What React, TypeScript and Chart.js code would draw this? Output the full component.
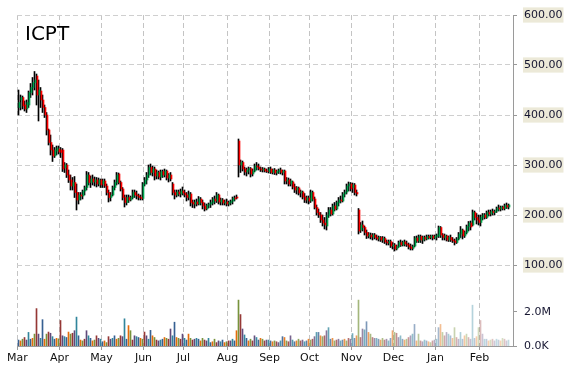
import React, { useEffect, useRef } from "react";
import { Chart, registerables } from "chart.js";

Chart.register(...registerables);

const TITLE = "ICPT";
const months = ["Mar", "Apr", "May", "Jun", "Jul", "Aug", "Sep", "Oct", "Nov", "Dec", "Jan", "Feb"];
const monthStartIdx = [0, 21, 42, 63, 83, 105, 126, 146, 167, 188, 209, 231];
const priceTicks = [100, 200, 300, 400, 500, 600];
const volumeTicks = [0, 2]; // millions

const opens = [
  415, 430, 435, 420, 412, 420, 445, 455, 465, 478, 440, 448, 430, 415, 400, 370, 345, 330, 318, 328, 332,
  330, 330, 295, 300, 280, 270, 258, 265, 245, 230, 240, 238, 248, 255, 280, 265, 272, 266, 270, 262, 270,
  262, 268, 258, 245, 235, 240, 255, 265, 282, 265, 252, 235, 225, 235, 230, 235, 245, 240, 238, 235, 233,
  262, 270, 280, 295, 285, 292, 278, 285, 276, 287, 280, 288, 274, 280, 262, 245, 240, 246, 242, 248,
  244, 240, 236, 242, 225, 222, 226, 222, 232, 225, 218, 212, 220, 222, 225, 232, 228, 240, 226, 230, 224,
  226, 222, 225, 228, 234, 236, 348, 300, 305, 292, 286, 290, 293, 282, 288, 298, 296, 292, 290, 292, 288,
  287, 292, 285, 290, 284, 287, 290, 285, 288, 268, 270, 262, 266, 256, 250, 254, 244, 246, 236, 230, 234,
  228, 245, 232, 215, 205, 200, 190, 184, 178, 200, 210, 202, 218, 212, 225, 230, 228, 242, 246, 258, 262,
  255, 260, 245, 210, 170, 180, 175, 165, 158, 160, 156, 160, 155, 152, 155, 150, 153, 146, 144, 147, 138,
  140, 132, 137, 145, 140, 146, 142, 140, 136, 133, 138, 154, 148, 157, 150, 155, 152, 157, 155, 158, 154,
  157, 158, 175, 160, 155, 158, 150, 155, 150, 148, 145, 152, 162, 170, 158, 165, 177, 184, 180, 205, 195,
  190, 185, 196, 200, 195, 205, 202, 207, 205, 208, 214, 212, 216, 213, 219, 216,
];
const highs = [
  450, 440, 438, 428, 430, 448, 463, 475, 487, 482, 470, 455, 440, 420, 405, 372, 360, 340, 335, 338, 338,
  335, 333, 305, 303, 290, 280, 275, 277, 262, 245, 245, 250, 258, 287, 285, 278, 280, 276, 275, 274, 272,
  272, 272, 262, 250, 245, 258, 270, 285, 284, 268, 255, 240, 240, 240, 238, 250, 250, 248, 242, 240, 265,
  275, 285, 300, 302, 298, 296, 290, 288, 290, 290, 292, 290, 283, 285, 265, 250, 250, 250, 252, 256,
  250, 245, 248, 245, 230, 230, 232, 237, 235, 230, 224, 222, 224, 230, 235, 238, 245, 242, 234, 233, 230,
  232, 228, 230, 236, 238, 240, 352, 310, 308, 296, 294, 296, 295, 292, 302, 305, 302, 296, 295, 294, 292,
  295, 296, 292, 293, 290, 292, 294, 290, 290, 275, 274, 272, 268, 262, 257, 256, 250, 248, 243, 238, 238,
  250, 248, 236, 220, 212, 205, 200, 195, 205, 215, 215, 222, 225, 228, 235, 238, 245, 250, 262, 266, 265,
  264, 263, 250, 213, 185, 188, 178, 170, 165, 164, 163, 163, 160, 158, 157, 157, 156, 150, 150, 150, 145,
  143, 140, 148, 150, 148, 150, 148, 144, 142, 140, 157, 158, 160, 160, 158, 158, 160, 160, 160, 160, 160,
  162, 178, 177, 163, 162, 160, 158, 160, 155, 152, 155, 165, 177, 172, 168, 180, 187, 188, 210, 208, 203,
  200, 200, 203, 203, 208, 210, 210, 212, 210, 216, 220, 218, 218, 222, 224, 222,
];
const lows = [
  400, 410, 412, 408, 405, 415, 435, 440, 450, 420, 388, 415, 405, 395, 360, 340, 320, 307, 315, 320, 322,
  315, 287, 285, 275, 265, 250, 250, 235, 210, 222, 230, 232, 240, 250, 260, 255, 260, 258, 256, 258, 255,
  255, 255, 240, 226, 228, 238, 250, 260, 262, 248, 230, 216, 220, 225, 228, 232, 235, 232, 230, 230, 230,
  258, 262, 275, 280, 278, 270, 272, 272, 270, 275, 276, 270, 266, 268, 240, 232, 236, 238, 236, 240,
  236, 228, 230, 218, 215, 214, 218, 220, 220, 212, 208, 210, 214, 215, 220, 222, 225, 222, 220, 220, 220,
  218, 218, 220, 222, 228, 232, 276, 285, 288, 280, 278, 282, 276, 278, 286, 290, 290, 287, 286, 286, 285,
  284, 283, 282, 281, 280, 283, 282, 280, 262, 262, 258, 258, 252, 245, 242, 240, 236, 232, 225, 224, 222,
  225, 228, 212, 200, 195, 185, 178, 172, 170, 195, 198, 200, 208, 210, 218, 224, 226, 236, 242, 248, 248,
  245, 240, 238, 162, 165, 168, 160, 153, 154, 152, 150, 152, 150, 148, 147, 145, 143, 140, 140, 135, 132,
  128, 130, 135, 137, 138, 138, 137, 132, 130, 130, 136, 145, 145, 145, 143, 148, 150, 152, 152, 150, 152,
  150, 155, 155, 150, 150, 148, 147, 147, 145, 140, 143, 150, 155, 152, 155, 162, 168, 170, 178, 190, 182,
  180, 178, 190, 192, 193, 198, 198, 200, 200, 205, 208, 208, 210, 210, 213, 212,
];
const closes = [
  425, 435, 418, 412, 425, 445, 455, 465, 470, 440, 450, 430, 415, 400, 370, 345, 330, 318, 330, 334, 326,
  325, 292, 300, 280, 270, 258, 265, 245, 230, 240, 238, 248, 255, 280, 265, 272, 266, 270, 262, 270, 260,
  268, 258, 245, 235, 240, 255, 265, 280, 265, 252, 235, 225, 235, 230, 235, 245, 240, 238, 235, 233, 262,
  270, 280, 295, 285, 292, 278, 285, 276, 287, 280, 288, 274, 280, 272, 245, 240, 246, 242, 248, 244,
  240, 235, 242, 225, 222, 226, 222, 232, 225, 218, 212, 220, 222, 225, 232, 228, 240, 226, 230, 224, 226,
  222, 225, 228, 234, 232, 234, 300, 305, 292, 286, 290, 293, 282, 288, 298, 296, 292, 290, 292, 288, 287,
  292, 285, 290, 284, 287, 290, 285, 288, 268, 270, 262, 268, 256, 250, 254, 244, 246, 236, 230, 234, 228,
  245, 232, 215, 205, 200, 190, 184, 180, 200, 210, 202, 218, 212, 225, 230, 228, 242, 246, 258, 262, 252,
  260, 245, 242, 168, 180, 175, 165, 158, 160, 156, 160, 155, 152, 155, 150, 153, 146, 144, 147, 138, 140,
  132, 137, 145, 140, 146, 142, 140, 136, 133, 138, 154, 148, 157, 150, 155, 152, 157, 155, 158, 154, 157,
  160, 175, 160, 155, 158, 150, 155, 150, 148, 145, 152, 162, 170, 158, 165, 177, 184, 176, 205, 195, 190,
  185, 196, 200, 195, 205, 202, 207, 205, 208, 214, 212, 216, 213, 219, 216, 220,
];
// volume, millions of shares
const volumes = [
  0.35, 0.30, 0.40, 0.50, 0.35, 0.80, 0.40, 0.45, 0.70, 2.20, 0.70, 0.45, 1.55, 0.40, 0.70, 0.82, 0.75, 0.55, 0.40, 0.45, 0.42,
  1.50, 0.60, 0.55, 0.50, 0.82, 0.70, 0.75, 0.90, 1.70, 0.60, 0.35, 0.30, 0.40, 0.90, 0.60, 0.45, 0.30, 0.35, 0.60, 0.45, 0.40,
  0.25, 0.30, 0.20, 0.55, 0.40, 0.45, 0.60, 0.40, 0.45, 0.60, 0.55, 1.60, 0.40, 1.20, 0.90, 0.35, 0.60, 0.55, 0.50, 0.45, 0.40,
  0.82, 0.60, 0.40, 0.92, 0.60, 0.50, 0.35, 0.30, 0.35, 0.40, 0.50, 0.45, 0.40, 1.00, 0.60, 1.40, 0.50, 0.45, 0.40, 0.70,
  0.45, 0.35, 0.70, 0.45, 0.35, 0.40, 0.45, 0.40, 0.30, 0.45, 0.35, 0.30, 0.45, 0.20, 0.25, 0.40, 0.20, 0.30, 0.25, 0.35, 0.20,
  0.25, 0.30, 0.30, 0.40, 0.30, 0.90, 2.70, 1.85, 1.00, 0.65, 0.45, 0.30, 0.40, 0.30, 0.60, 0.50, 0.35, 0.45, 0.40, 0.30, 0.35,
  0.35, 0.30, 0.25, 0.30, 0.25, 0.20, 0.30, 0.55, 0.50, 0.30, 0.25, 0.60, 0.35, 0.25, 0.30, 0.40, 0.30, 0.35, 0.25, 0.30, 0.40,
  0.35, 0.40, 0.55, 0.80, 0.80, 0.60, 0.55, 0.60, 0.90, 1.08, 0.40, 0.45, 0.30, 0.35, 0.40, 0.30, 0.35, 0.40, 0.30, 0.45, 0.40,
  0.73, 0.45, 0.60, 2.70, 0.50, 1.00, 0.95, 1.43, 0.80, 0.70, 0.50, 0.45, 0.45, 0.40, 0.35, 0.45, 0.35, 0.40, 0.30, 0.45, 0.90,
  0.80, 0.75, 0.50, 0.60, 0.40, 0.35, 0.40, 0.50, 0.60, 0.70, 1.27, 0.30, 0.70, 0.30, 0.25, 0.35, 0.30, 0.25, 0.20, 0.30, 0.35,
  0.40, 1.08, 1.27, 0.80, 0.60, 0.80, 0.70, 0.60, 0.45, 1.08, 0.50, 0.40, 0.80, 0.40, 0.60, 0.70, 0.50, 0.40, 2.40, 0.45, 0.55,
  1.08, 1.50, 0.70, 0.40, 0.40, 0.30, 0.35, 0.40, 0.30, 0.40, 0.35, 0.30, 0.45, 0.40, 0.30, 0.35,
];

// shared plot: price axis extended below so the volume panel fits at the bottom
const PRICE_MIN = -62;
const PRICE_MAX = 600;
const VOL_MAX = 19.47;
const X_MIN = -0.75;
const X_MAX = 247.25;
const BODY_SHIFT = 0.5; // body column drawn beside the wick

const UP = "#00a650";
const DOWN = "#ff0000";
const VOL_PALETTE = [
  [54, 96, 146],
  [228, 108, 10],
  [119, 147, 60],
  [149, 55, 53],
  [96, 73, 122],
  [49, 133, 156],
];

const volToAxis = (v: number) => PRICE_MIN + (v / VOL_MAX) * (PRICE_MAX - PRICE_MIN);
const fmtVol = (v: number) => (v >= 1 ? v.toFixed(1) + "M" : (v * 1000).toFixed(1) + "K");

const titlePlugin = {
  id: "tickerTitle",
  afterDraw(chart: any) {
    const { ctx, chartArea } = chart;
    ctx.save();
    ctx.font = '20px "DejaVu Sans"';
    ctx.fillStyle = "#000";
    ctx.textBaseline = "alphabetic";
    ctx.textAlign = "left";
    ctx.fillText(TITLE, chartArea.left + 8, chartArea.top + 25);
    ctx.restore();
  },
};

export default function App() {
  const ref = useRef<HTMLCanvasElement | null>(null);

  useEffect(() => {
    if (!ref.current) return;
    const n = Math.min(opens.length, highs.length, lows.length, closes.length, volumes.length);
    const idx = Array.from({ length: n }, (_, i) => i);

    const bodyData = idx.map((i) => ({ x: i + BODY_SHIFT, y: [opens[i], closes[i]] }));
    const wickData = idx.map((i) => ({ x: i, y: [lows[i], highs[i]] }));
    const volData = idx.map((i) => ({ x: i, y: [0, volumes[i]] }));

    const bodyColors = idx.map((i) => (closes[i] >= opens[i] ? UP : DOWN));
    const volColors = idx.map((i) => {
      const a = i < 110 ? 1 : Math.max(0.3, 1 - ((i - 110) / 136) * 0.75);
      const c = VOL_PALETTE[i % VOL_PALETTE.length];
      return `rgba(${c[0]},${c[1]},${c[2]},${a.toFixed(3)})`;
    });

    Chart.defaults.font.family = '"DejaVu Sans", Verdana, sans-serif';
    Chart.defaults.font.size = 11;

    const chart = new Chart(ref.current, {
      type: "bar",
      data: {
        datasets: [
          {
            label: "wick",
            data: wickData as any,
            backgroundColor: "#000000",
            barThickness: 1,
            grouped: false,
            yAxisID: "y",
            order: 1,
          } as any,
          {
            label: "body",
            data: bodyData as any,
            backgroundColor: bodyColors,
            barThickness: 1,
            grouped: false,
            yAxisID: "y",
            order: 0,
          } as any,
          {
            label: "volume",
            data: volData as any,
            backgroundColor: volColors,
            barThickness: 1,
            grouped: false,
            yAxisID: "yv",
            order: 2,
          } as any,
        ],
      },
      options: {
        animation: false,
        responsive: false,
        devicePixelRatio: 1,
        layout: { padding: { left: 17, top: 15, right: 0, bottom: 0 } },
        plugins: {
          legend: { display: false },
          title: { display: false },
          tooltip: { enabled: false },
        },
        scales: {
          x: {
            type: "linear",
            min: X_MIN,
            max: X_MAX,
            offset: false,
            afterBuildTicks: (scale: any) => {
              scale.ticks = monthStartIdx.map((i) => ({ value: i - 0.5 }));
            },
            afterFit: (scale: any) => {
              scale.height = 24;
            },
            ticks: {
              autoSkip: false,
              maxRotation: 0,
              padding: 2,
              color: "#111",
              callback: (_v: any, i: number) => months[i],
            },
            grid: {
              offset: false,
              color: "#c4c4c4",
              tickColor: "#999",
              tickLength: 4,
              drawOnChartArea: true,
            },
            border: { display: true, color: "#9a9a9a", width: 1, dash: [5, 3] },
          } as any,
          y: {
            type: "linear",
            position: "right",
            min: PRICE_MIN,
            max: PRICE_MAX,
            afterBuildTicks: (scale: any) => {
              scale.ticks = [
                ...volumeTicks.map((v) => ({ value: volToAxis(v) })),
                ...priceTicks.map((v) => ({ value: v })),
              ];
            },
            afterFit: (scale: any) => {
              scale.width = 57;
            },
            ticks: {
              autoSkip: false,
              padding: 7,
              color: "#151530",
              callback: (v: any, i: number) =>
                i < volumeTicks.length ? fmtVol(volumeTicks[i]) : Number(v).toFixed(2),
              showLabelBackdrop: (ctx: any) => ctx.index >= volumeTicks.length,
              backdropColor: "#ece9d8",
              backdropPadding: { top: 1, bottom: 1, left: 1, right: 1 },
            },
            grid: {
              color: (ctx: any) => (ctx.index < volumeTicks.length ? "rgba(0,0,0,0)" : "#cfcfcf"),
              tickColor: "#999",
              tickLength: 4,
            },
            border: { display: true, color: "#9a9a9a", width: 1, dash: [5, 3] },
          } as any,
          yv: {
            type: "linear",
            display: false,
            min: 0,
            max: VOL_MAX,
          },
        },
      } as any,
      plugins: [titlePlugin],
    });

    return () => chart.destroy();
  }, []);

  return (
    <canvas
      ref={ref}
      width={570}
      height={370}
      style={{ position: "fixed", left: 0, top: 0, width: 570, height: 370 }}
    />
  );
}
